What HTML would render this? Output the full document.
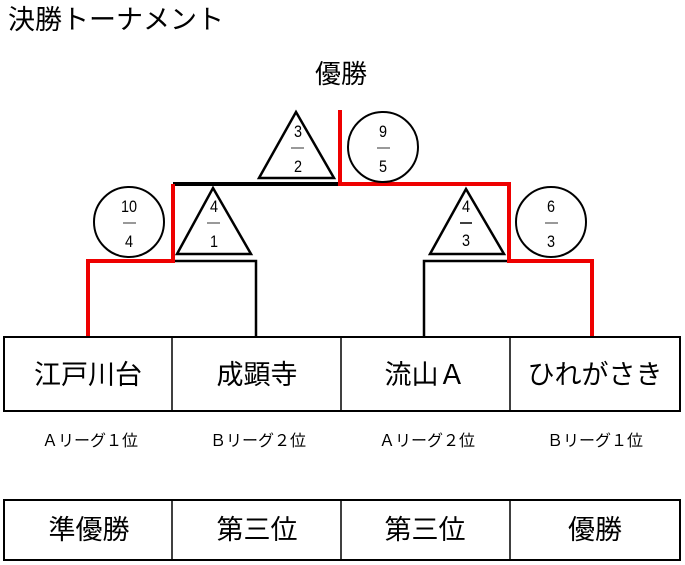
<!DOCTYPE html>
<html><head><meta charset="utf-8"><style>
html,body{margin:0;padding:0;background:#fff;}
svg{display:block;}
text{font-family:"Liberation Sans","Noto Sans CJK JP",sans-serif;fill:#000;}
</style></head><body>
<svg width="685" height="565" viewBox="0 0 685 565" xmlns="http://www.w3.org/2000/svg">
<text x="8" y="29" font-size="27">決勝トーナメント</text>
<text x="341" y="83" font-size="26" text-anchor="middle">優勝</text>

<polyline points="173,184 340,184" fill="none" stroke="#000" stroke-width="4"/>
<polyline points="175,261 256,261 256,337" fill="none" stroke="#000" stroke-width="2.5"/>
<polyline points="424,337 424,261 509,261" fill="none" stroke="#000" stroke-width="2.5"/>
<polyline points="88,337 88,261 173,261 173,184" fill="none" stroke="#e00" stroke-width="4"/>
<polyline points="340,110 340,184 509,184 509,261 592,261 592,337" fill="none" stroke="#e00" stroke-width="4"/>

<polygon points="296,112 334,178 259,178" fill="#fff" stroke="#000" stroke-width="2.5"/>
<polygon points="213,188 251,254 177,254" fill="#fff" stroke="#000" stroke-width="2.5"/>
<polygon points="466,189 504,254 430,254" fill="#fff" stroke="#000" stroke-width="2.5"/>
<circle cx="129" cy="222" r="35" fill="#fff" stroke="#000" stroke-width="2"/>
<circle cx="383" cy="147" r="35" fill="#fff" stroke="#000" stroke-width="2"/>
<circle cx="551" cy="222" r="35" fill="#fff" stroke="#000" stroke-width="2"/>

<g font-size="17" text-anchor="middle">
<g transform="translate(298,0) scale(0.85,1)"><text x="0" y="137">3</text><text x="0" y="172">2</text></g>
<line x1="291" y1="148" x2="304" y2="148" stroke="#777" stroke-width="1.5"/>
<g transform="translate(214,0) scale(0.85,1)"><text x="0" y="212">4</text><text x="0" y="247">1</text></g>
<line x1="207" y1="223" x2="220" y2="223" stroke="#777" stroke-width="1.5"/>
<g transform="translate(466,0) scale(0.85,1)"><text x="0" y="212">4</text><text x="0" y="246">3</text></g>
<line x1="460" y1="223" x2="472" y2="223" stroke="#000" stroke-width="1.5"/>
<g transform="translate(129,0) scale(0.85,1)"><text x="0" y="212">10</text><text x="0" y="247">4</text></g>
<line x1="123" y1="223" x2="136" y2="223" stroke="#777" stroke-width="1.5"/>
<g transform="translate(383,0) scale(0.85,1)"><text x="0" y="137">9</text><text x="0" y="172">5</text></g>
<line x1="377" y1="148" x2="390" y2="148" stroke="#777" stroke-width="1.5"/>
<g transform="translate(551,0) scale(0.85,1)"><text x="0" y="212">6</text><text x="0" y="247">3</text></g>
<line x1="545" y1="223" x2="558" y2="223" stroke="#777" stroke-width="1.5"/>
</g>

<rect x="4" y="337" width="676" height="74" fill="none" stroke="#000" stroke-width="2"/>
<line x1="172" y1="337" x2="172" y2="411" stroke="#000" stroke-width="1.5"/>
<line x1="341" y1="337" x2="341" y2="411" stroke="#000" stroke-width="1.5"/>
<line x1="510" y1="337" x2="510" y2="411" stroke="#000" stroke-width="1.5"/>
<g font-size="27" text-anchor="middle">
<text x="88" y="384">江戸川台</text>
<text x="257" y="384">成顕寺</text>
<text x="425" y="384">流山Ａ</text>
<text x="595" y="384">ひれがさき</text>
</g>
<g font-size="16" text-anchor="middle">
<text x="90" y="446">Ａリーグ１位</text>
<text x="258" y="446">Ｂリーグ２位</text>
<text x="427" y="446">Ａリーグ２位</text>
<text x="595" y="446">Ｂリーグ１位</text>
</g>
<rect x="4" y="500" width="676" height="60" fill="none" stroke="#000" stroke-width="2"/>
<line x1="172" y1="500" x2="172" y2="560" stroke="#000" stroke-width="1.5"/>
<line x1="341" y1="500" x2="341" y2="560" stroke="#000" stroke-width="1.5"/>
<line x1="510" y1="500" x2="510" y2="560" stroke="#000" stroke-width="1.5"/>
<g font-size="27" text-anchor="middle">
<text x="89" y="539">準優勝</text>
<text x="257" y="539">第三位</text>
<text x="425" y="539">第三位</text>
<text x="595" y="539">優勝</text>
</g>
</svg>
</body></html>
